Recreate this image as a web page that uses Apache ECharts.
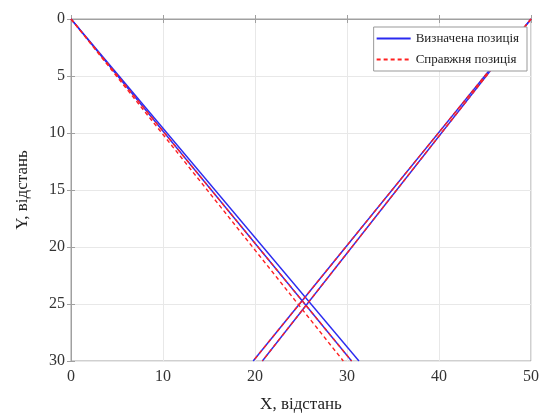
<!DOCTYPE html>
<html><head><meta charset="utf-8">
<script src="https://cdn.jsdelivr.net/npm/echarts@6/dist/echarts.min.js"></script>
<style>html,body{margin:0;padding:0;background:#fff}#c{width:547px;height:418px}</style>
</head><body><div id="c"></div>
<script>
// Data
const xTicks = [0, 10, 20, 30, 40, 50];
const yTicks = [0, 5, 10, 15, 20, 25, 30];
const legendNames = ['Визначена позиція', 'Справжня позиція'];
// Determined positions (blue solid)
const detDesc1 = [[0, 0], [31.3, 30]];
const detDesc2 = [[0, 0], [30.5, 30]];
const detAsc1 = [[50, 0], [19.8, 30]];
const detAsc2 = [[50, 0], [20.8, 30]];
// Reference positions (red dashed)
const refDesc1 = [[0, 0], [30.5, 30]];
const refDesc2 = [[0, 0], [29.6, 30]];
const refAsc1 = [[50, 0], [19.8, 30]];
const refAsc2 = [[50, 0], [20.8, 30]];

const blue = '#2a2af0', red = '#ff2020';
function mk(name, data, color, type) {
  return {name, type: 'line', data, symbol: 'none', animation: false,
    lineStyle: {color, width: 1.4, type}, itemStyle: {color}};
}
const font = 'Liberation Serif';
const chart = echarts.init(document.getElementById('c'));
chart.setOption({
  backgroundColor: '#fff',
  grid: {left: 71, right: 16, top: 19, bottom: 56, show: true, borderColor: '#a0a0a0', borderWidth: 1, containLabel: false},
  legend: {
    data: legendNames, orient: 'vertical', right: 20, top: 27,
    itemWidth: 34, itemHeight: 12, itemGap: 8,
    itemStyle: {opacity: 0},
    backgroundColor: '#fff', borderColor: '#999', borderWidth: 1, borderRadius: 0, padding: [5, 8, 5, 2],
    textStyle: {fontFamily: font, fontSize: 13, color: '#222'}
  },
  xAxis: [{
    type: 'value', min: 0, max: 50, interval: 10, position: 'bottom',
    name: 'X, відстань', nameLocation: 'middle', nameGap: 35,
    nameTextStyle: {fontFamily: font, fontSize: 17, color: '#222'},
    axisLine: {show: true, lineStyle: {color: '#a0a0a0'}},
    axisTick: {inside: true, length: 4, lineStyle: {color: '#a0a0a0'}},
    axisLabel: {fontFamily: font, fontSize: 16, color: '#333', margin: 8},
    splitLine: {show: true, lineStyle: {color: '#e8e8e8'}}
  }, {
    type: 'value', min: 0, max: 50, interval: 10, position: 'top',
    axisLine: {show: true, lineStyle: {color: '#a0a0a0'}},
    axisTick: {inside: true, length: 4, lineStyle: {color: '#a0a0a0'}},
    axisLabel: {show: false}, splitLine: {show: false}
  }],
  yAxis: [{
    type: 'value', min: 0, max: 30, interval: 5, inverse: true, position: 'left',
    name: 'Y, відстань', nameLocation: 'middle', nameGap: 40, nameRotate: 90,
    nameTextStyle: {fontFamily: font, fontSize: 17, color: '#222'},
    axisLine: {show: true, lineStyle: {color: '#a0a0a0'}},
    axisTick: {inside: true, length: 4, lineStyle: {color: '#a0a0a0'}},
    axisLabel: {fontFamily: font, fontSize: 16, color: '#333', margin: 6},
    splitLine: {show: true, lineStyle: {color: '#e8e8e8'}}
  }, {
    type: 'value', min: 0, max: 30, interval: 5, inverse: true, position: 'right',
    axisLine: {show: true, lineStyle: {color: '#a0a0a0'}},
    axisTick: {inside: true, length: 4, lineStyle: {color: '#a0a0a0'}},
    axisLabel: {show: false}, splitLine: {show: false}
  }],
  series: [
    mk(legendNames[0], detDesc1, blue, 'solid'),
    mk(legendNames[0], detDesc2, blue, 'solid'),
    mk(legendNames[0], detAsc1, blue, 'solid'),
    mk(legendNames[0], detAsc2, blue, 'solid'),
    mk(legendNames[1], refDesc1, red, [4, 3]),
    mk(legendNames[1], refDesc2, red, [4, 3]),
    mk(legendNames[1], refAsc1, red, [4, 3]),
    mk(legendNames[1], refAsc2, red, [4, 3])
  ]
});
</script></body></html>
